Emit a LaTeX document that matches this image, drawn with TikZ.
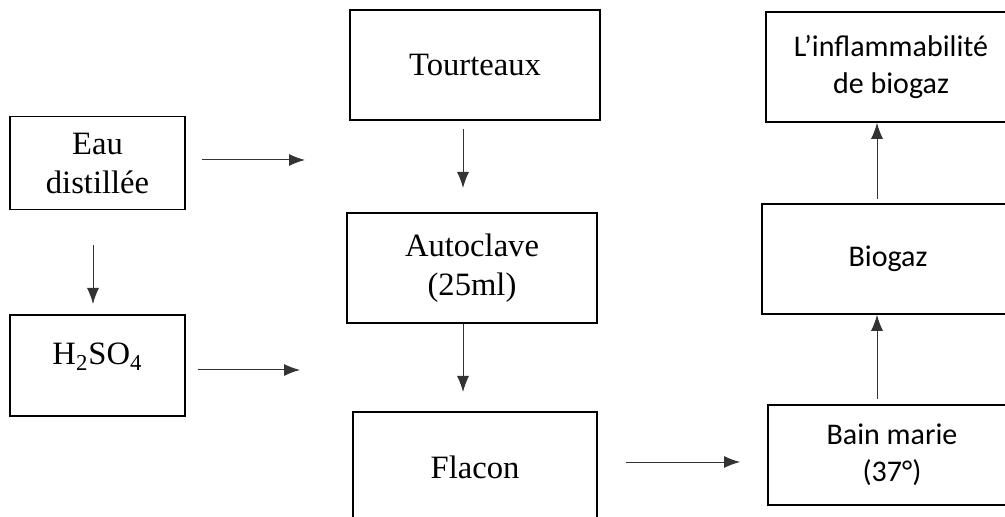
\documentclass[tikz,border=0pt]{standalone}
\usepackage{fontspec}
\setmainfont{Liberation Serif}
\newfontfamily\calibri{Carlito}
\usetikzlibrary{arrows.meta}

\tikzset{
    boite/.style={draw=black, line width=0.8pt, align=center, inner sep=0pt,
        font=\fontsize{16.3}{19.5}\selectfont},
    boitec/.style={boite, font=\calibri\fontsize{15}{18.5}\selectfont},
    fleche/.style={draw=black!80, line width=0.5pt, -{Latex[length=8pt,width=6pt]}}
}

\begin{document}
\begin{tikzpicture}[x=0.5pt, y=-0.5pt]
    \useasboundingbox (0,0) rectangle (1005,517);
    \clip (0,0) rectangle (1005,517);
    % colonne de gauche
    \node[boite, minimum width=87.5pt, minimum height=46.5pt] (eau) at (97.5,163) {Eau\\distillée};
    \node[boite, minimum width=87.5pt, minimum height=50.5pt] (acide) at (97.5,365.5) {H\textsubscript{2}SO\textsubscript{4}\\[-14pt]\strut};
    % colonne du milieu
    \node[boite, minimum width=125pt, minimum height=55pt] (tourteaux) at (475,65) {Tourteaux};
    \node[boite, minimum width=125pt, minimum height=55pt] (autoclave) at (472,268) {Autoclave\\(25ml)};
    \node[boite, minimum width=122pt, minimum height=55pt] (flacon) at (475,467) {Flacon};
    % colonne de droite
    \node[boitec, minimum width=125pt, minimum height=55pt] (inflam) at (891,67) {L’inflammabilité\\de biogaz};
    \node[boitec, minimum width=126pt, minimum height=55pt] (biogaz) at (888,259) {Biogaz};
    \node[boitec, minimum width=124pt, minimum height=50pt] (bain) at (892,455) {Bain marie\\(37°)};
    % extremites libres des fleches
    \coordinate (eaufin) at (305,160);
    \coordinate (acidefin) at (300,370);
    \coordinate (eaubas) at (93,304);
    \coordinate (tourbas) at (463,188);
    \coordinate (autobas) at (463,392);
    \coordinate (flacfin) at (740,462);
    \coordinate (baindeb) at (877,399);
    \coordinate (biodeb) at (877,199);
    % fleches
    \draw[fleche] (eaufin -| eau.east) ++(16,0) -- (eaufin);
    \draw[fleche] (acidefin -| acide.east) ++(12,0) -- (acidefin);
    \draw[fleche] (eaubas |- eau.south) ++(0,35) -- (eaubas);
    \draw[fleche] (tourbas |- tourteaux.south) ++(0,8) -- (tourbas);
    \draw[fleche] (autobas |- autoclave.south) -- (autobas);
    \draw[fleche] (flacfin -| flacon.east) ++(28,0) -- (flacfin);
    \draw[fleche] (baindeb) -- (baindeb |- biogaz.south);
    \draw[fleche] (biodeb) -- (biodeb |- inflam.south);
\end{tikzpicture}
\end{document}
